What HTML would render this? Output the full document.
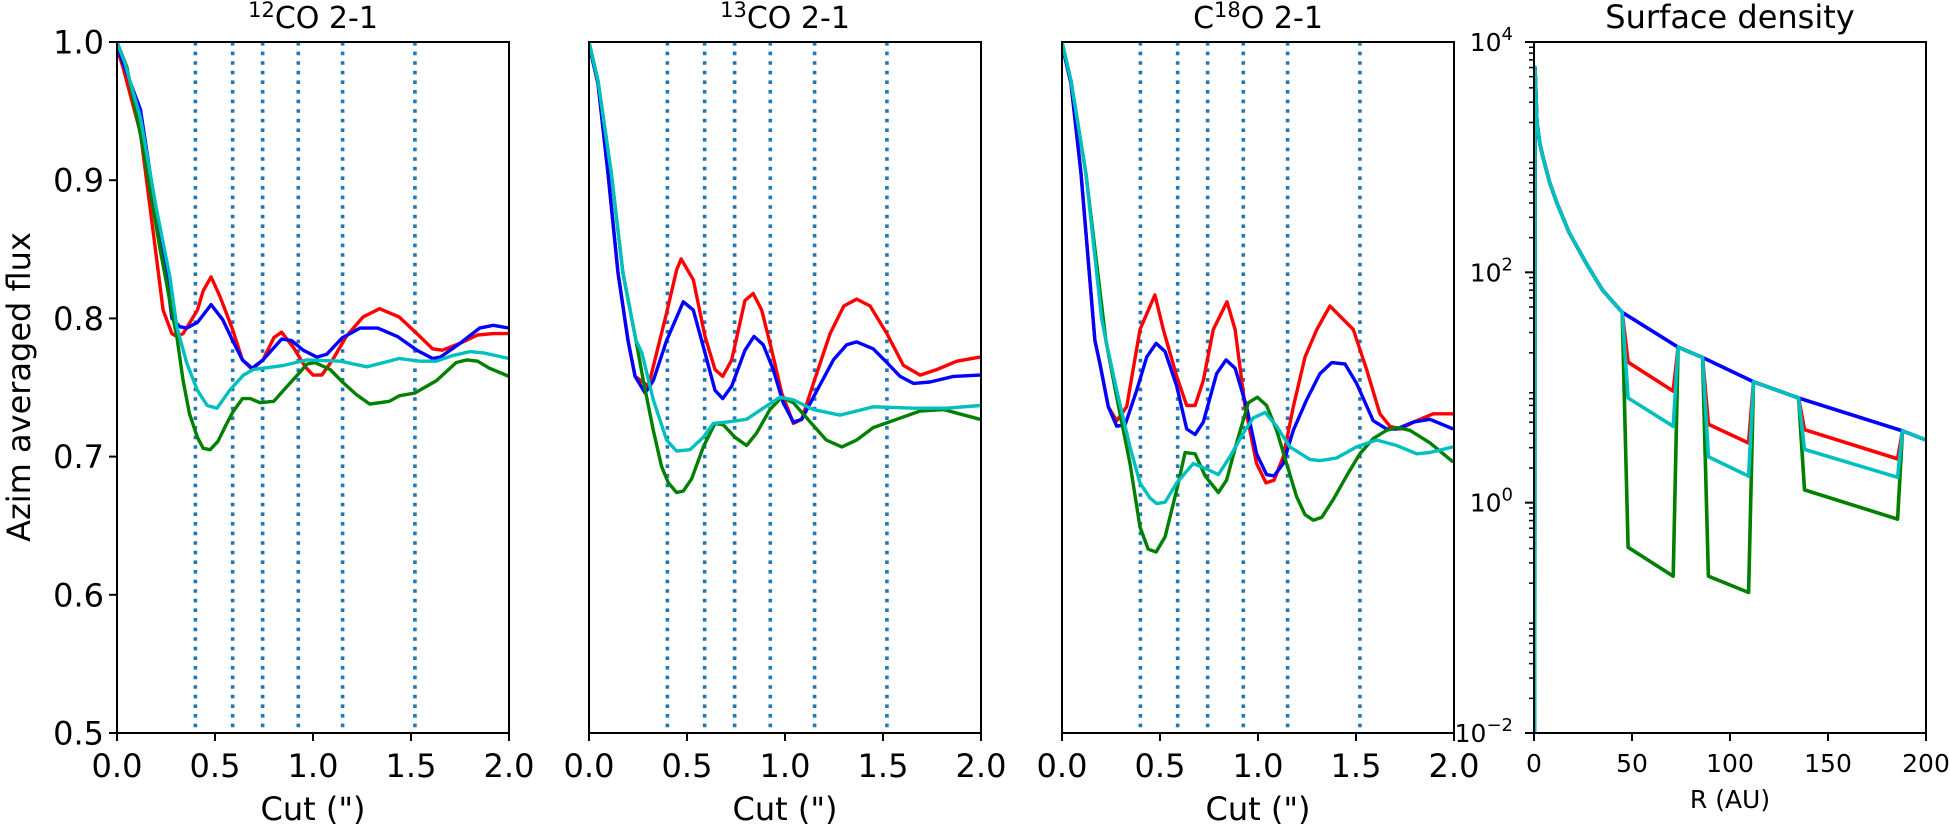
<!DOCTYPE html>
<html><head><meta charset="utf-8"><title>Azim averaged flux</title>
<style>
html,body{margin:0;padding:0;background:#fff;}
svg{display:block;font-family:"DejaVu Sans","Liberation Sans",sans-serif;}
</style></head>
<body>
<svg id="fig" width="1950" height="826" viewBox="0 0 1950 826" xmlns="http://www.w3.org/2000/svg"></svg>
<script>
// ---------- Data: flux panels ----------
const cutMarkers = [0.40, 0.59, 0.743, 0.925, 1.151, 1.52];
const xTicks = [0.0, 0.5, 1.0, 1.5, 2.0];
const yTicks = [0.5, 0.6, 0.7, 0.8, 0.9, 1.0];
const panelTitles = ["12CO 2-1", "13CO 2-1", "C18O 2-1"];

const p1RedX = [0,.03,.12,.185,.235,.28,.305,.337,.41,.44,.48,.525,.59,.64,.69,.745,.80,.84,.90,.96,1.0,1.045,1.10,1.17,1.255,1.34,1.44,1.53,1.61,1.66,1.75,1.84,1.92,2.0];
const p1RedY = [.995,.982,.934,.862,.806,.789,.787,.789,.806,.82,.83,.816,.792,.77,.763,.77,.786,.79,.779,.765,.759,.759,.77,.787,.801,.807,.801,.789,.778,.777,.782,.788,.789,.789];
const p1BlueX = [0,.03,.12,.2,.255,.28,.32,.355,.41,.48,.54,.59,.64,.69,.745,.84,.89,.95,1.02,1.07,1.15,1.24,1.33,1.43,1.53,1.61,1.65,1.75,1.85,1.92,2.0];
const p1BlueY = [.998,.985,.951,.876,.828,.80,.794,.793,.797,.81,.799,.784,.77,.764,.77,.785,.784,.777,.772,.774,.786,.793,.793,.787,.777,.771,.772,.782,.793,.795,.793];
const p1CyanX = [0,.04,.12,.20,.27,.305,.355,.41,.46,.51,.575,.645,.695,.80,.85,.97,1.14,1.275,1.36,1.44,1.545,1.63,1.71,1.80,1.87,2.0];
const p1CyanY = [1.0,.985,.945,.88,.83,.794,.768,.748,.737,.735,.748,.759,.763,.765,.766,.77,.769,.765,.768,.771,.769,.769,.773,.776,.775,.771];
const p1GreenX = [0,.05,.135,.22,.285,.305,.337,.37,.41,.44,.475,.515,.56,.59,.64,.68,.73,.80,.85,.92,.97,1.01,1.087,1.15,1.22,1.29,1.39,1.44,1.52,1.63,1.73,1.785,1.84,1.90,2.0];
const p1GreenY = [1.0,.982,.922,.85,.801,.787,.755,.731,.714,.706,.705,.711,.724,.732,.742,.742,.739,.74,.748,.759,.767,.768,.763,.754,.745,.738,.74,.744,.746,.755,.768,.77,.769,.764,.758];

const p2RedX = [0,.046,.097,.148,.199,.235,.303,.396,.447,.47,.532,.592,.643,.682,.728,.796,.838,.881,.932,.983,1.043,1.085,1.145,1.23,1.30,1.366,1.434,1.52,1.604,1.69,1.775,1.877,1.995];
const p2RedY = [.998,.97,.905,.833,.784,.758,.751,.804,.835,.843,.828,.787,.763,.758,.77,.813,.818,.806,.777,.746,.724,.727,.753,.789,.809,.814,.809,.789,.766,.759,.763,.769,.772];
const p2BlueX = [0,.046,.097,.148,.199,.235,.286,.328,.396,.481,.532,.592,.643,.682,.728,.796,.842,.889,.94,.991,1.043,1.085,1.145,1.247,1.315,1.366,1.45,1.52,1.587,1.655,1.74,1.86,1.995];
const p2BlueY = [.998,.97,.905,.833,.784,.758,.746,.755,.784,.812,.806,.775,.748,.742,.751,.777,.787,.781,.763,.739,.725,.727,.743,.77,.781,.783,.778,.768,.758,.753,.754,.758,.759];
const p2CyanX = [0,.046,.114,.173,.24,.27,.328,.396,.447,.515,.583,.634,.702,.804,.889,.974,1.043,1.145,1.28,1.366,1.45,1.655,1.825,1.995];
const p2CyanY = [1.0,.972,.905,.833,.784,.775,.741,.712,.704,.705,.714,.724,.725,.727,.735,.743,.741,.734,.730,.733,.736,.735,.735,.737];
const p2GreenX = [0,.046,.114,.173,.24,.277,.328,.37,.405,.447,.481,.524,.583,.643,.685,.745,.804,.855,.923,.983,1.043,1.11,1.21,1.29,1.366,1.45,1.57,1.69,1.81,1.89,1.995];
const p2GreenY = [1.0,.972,.905,.833,.784,.755,.719,.693,.681,.674,.675,.684,.707,.724,.723,.714,.708,.717,.734,.743,.739,.728,.712,.707,.712,.721,.727,.733,.734,.731,.727];

const p3RedX = [0,.046,.097,.168,.194,.236,.279,.33,.398,.474,.517,.585,.636,.679,.721,.772,.842,.883,.934,.993,1.041,1.082,1.129,1.18,1.24,1.30,1.367,1.486,1.554,1.622,1.673,1.724,1.81,1.894,1.996];
const p3RedY = [.998,.97,.905,.784,.767,.736,.726,.736,.792,.817,.792,.758,.737,.737,.755,.792,.812,.792,.736,.695,.681,.683,.70,.736,.772,.792,.809,.792,.763,.731,.722,.72,.726,.731,.731];
const p3BlueX = [0,.046,.097,.168,.194,.236,.279,.322,.381,.432,.48,.526,.585,.636,.679,.721,.789,.837,.883,.942,.993,1.044,1.082,1.129,1.18,1.248,1.316,1.376,1.444,1.503,1.588,1.656,1.707,1.792,1.877,1.996];
const p3BlueY = [.998,.97,.905,.784,.767,.736,.722,.723,.748,.772,.782,.776,.751,.72,.716,.725,.76,.77,.764,.736,.702,.687,.686,.695,.719,.741,.76,.768,.767,.753,.726,.72,.72,.725,.727,.72];
const p3CyanX = [0,.046,.122,.202,.224,.279,.347,.398,.449,.483,.526,.585,.67,.738,.798,.857,.925,.976,1.036,1.095,1.163,1.265,1.316,1.401,1.503,1.605,1.707,1.81,1.877,1.996];
const p3CyanY = [1.0,.972,.905,.80,.784,.748,.707,.681,.670,.666,.667,.681,.695,.691,.687,.70,.717,.728,.732,.722,.707,.698,.697,.699,.707,.712,.708,.702,.703,.707];
const p3GreenX = [0,.046,.122,.224,.279,.347,.398,.44,.48,.526,.585,.628,.679,.730,.798,.840,.891,.951,.997,1.044,1.095,1.146,1.197,1.24,1.282,1.325,1.384,1.452,1.52,1.588,1.656,1.707,1.775,1.877,1.996];
const p3GreenY = [1.0,.972,.905,.784,.743,.695,.649,.633,.631,.642,.676,.703,.702,.686,.674,.683,.710,.739,.743,.737,.719,.695,.671,.658,.654,.656,.669,.686,.702,.713,.719,.721,.719,.71,.696];

// ---------- Data: surface density panel ----------
const rTicks = [0, 50, 100, 150, 200];
const sigmaDecades = [-2, 0, 2, 4];
const baseR = [0.3,0.5,1.5,3,4.6,8,11.7,18,27,35,45,73.5,86,112,135,188,200];
const baseSigma = [0.001,6000,2000,1300,1000,600,400,220,117,70,45,22.4,18.2,11.2,8.1,4.2,3.5];
const gapStart = [45, 86, 135];
const gapEnd = [73.5, 112, 188];
const redGapIn = [16.6, 4.8, 4.3];
const redGapOut = [9.3, 3.3, 2.4];
const cyanGapIn = [8.1, 2.5, 2.9];
const cyanGapOut = [4.6, 1.7, 1.66];
const greenGapIn = [0.41, 0.23, 1.29];
const greenGapOut = [0.23, 0.166, 0.72];

// ---------- Layout ----------
const NS = "http://www.w3.org/2000/svg";
const svg = document.getElementById('fig');
const TOP = 42, BOT = 733, W = 392;
const lefts = [117, 589, 1062, 1534];
const COLORS = {red:'#ff0000', blue:'#0000ff', green:'#008000', cyan:'#00bfbf'};

function mk(tag, attrs, parent){
  const e = document.createElementNS(NS, tag);
  for (const k in attrs) e.setAttribute(k, attrs[k]);
  (parent||svg).appendChild(e);
  return e;
}

const defs = mk('defs', {});
lefts.forEach((L,i)=>{
  const cp = mk('clipPath', {id:'clip'+i}, defs);
  mk('rect', {x:L, y:TOP, width:W, height:BOT-TOP}, cp);
});

function fluxPanel(idx, series){
  const L = lefts[idx];
  const sx = v => L + v/2*W;
  const sy = v => BOT - (v-0.5)/0.5*(BOT-TOP);
  const g = mk('g', {});
  
  
  const plot = mk('g', {'clip-path':'url(#clip'+idx+')'}, g);
  cutMarkers.forEach((m, j) => {
    const ln = mk('line', {x1:sx(m), x2:sx(m), y1:TOP, y2:BOT, stroke:'#1f77b4', 'stroke-width':3.6, 'stroke-dasharray':'3.6,6'}, plot);
    
    
  });
  series.forEach(s => {
    const pts = s.x.map((v,k)=> sx(v).toFixed(1)+','+sy(s.y[k]).toFixed(1)).join(' ');
    const pl = mk('polyline', {points:pts, fill:'none', stroke:COLORS[s.c], 'stroke-width':3.4, 'stroke-linejoin':'round'}, plot);
    
    
  });
  const fr = mk('rect', {x:L, y:TOP, width:W, height:BOT-TOP, fill:'none', stroke:'#000', 'stroke-width':2}, g);
  
  
  xTicks.forEach(t => {
    mk('line', {x1:sx(t), x2:sx(t), y1:BOT, y2:BOT+8, stroke:'#000', 'stroke-width':2}, g);
    const tx = mk('text', {x:sx(t), y:777, 'font-size':32, 'text-anchor':'middle'}, g);
    tx.textContent = t.toFixed(1);
    
    
  });
  if (idx === 0){
    yTicks.forEach(t => {
      mk('line', {x1:L-8, x2:L, y1:sy(t), y2:sy(t), stroke:'#000', 'stroke-width':2}, g);
      const ty = mk('text', {x:L-13, y:sy(t)+11.5, 'font-size':32, 'text-anchor':'end'}, g);
      ty.textContent = t.toFixed(1);
      
      
    });
    const yl = mk('text', {x:0, y:0, 'font-size':32, 'text-anchor':'middle', transform:'translate(30,387) rotate(-90)'}, g);
    yl.textContent = 'Azim averaged flux';
    
    
  }
  const xl = mk('text', {x:L+W/2, y:820, 'font-size':32, 'text-anchor':'middle'}, g);
  xl.textContent = 'Cut (")';
  
  
  const tt = mk('text', {x:L+W/2, y:28, 'font-size':30, 'text-anchor':'middle'}, g);
  
  
  let parts;
  if (idx===0) parts = [['',''],['12','sup'],['CO 2-1','']];
  else if (idx===1) parts = [['',''],['13','sup'],['CO 2-1','']];
  else parts = [['C',''],['18','sup'],['O 2-1','']];
  parts.forEach(p => {
    if (!p[0]) return;
    const ts = mk('tspan', p[1]==='sup' ? {'font-size':21, dy:-11} : {'font-size':30, dy: 11*(tt.childNodes.length>0 && tt.lastChild.getAttribute('font-size')==='21'?1:0)}, tt);
    ts.textContent = p[0];
  });
}

fluxPanel(0, [{c:'red',x:p1RedX,y:p1RedY},{c:'blue',x:p1BlueX,y:p1BlueY},{c:'green',x:p1GreenX,y:p1GreenY},{c:'cyan',x:p1CyanX,y:p1CyanY}]);
fluxPanel(1, [{c:'red',x:p2RedX,y:p2RedY},{c:'blue',x:p2BlueX,y:p2BlueY},{c:'green',x:p2GreenX,y:p2GreenY},{c:'cyan',x:p2CyanX,y:p2CyanY}]);
fluxPanel(2, [{c:'red',x:p3RedX,y:p3RedY},{c:'blue',x:p3BlueX,y:p3BlueY},{c:'green',x:p3GreenX,y:p3GreenY},{c:'cyan',x:p3CyanX,y:p3CyanY}]);

(function(){
  const L = lefts[3];
  const sx = r => L + r/200*W;
  const sy = s => BOT - (Math.log10(s) + 2)/6*(BOT-TOP);
  const g = mk('g', {});
  
  
  const plot = mk('g', {'clip-path':'url(#clip3)'}, g);

  function buildPath(inArr, outArr){
    const pts = [];
    for (let i=0;i<baseR.length;i++){
      const r = baseR[i];
      const gi = gapStart.indexOf(r);
      const inside = inArr && gapStart.some((a,k)=> r>a && r<gapEnd[k]);
      if (inside) continue;
      pts.push([r, baseSigma[i]]);
      if (inArr && gi>=0){
        pts.push([r+3, inArr[gi]]);
        pts.push([gapEnd[gi]-2.5, outArr[gi]]);
      }
    }
    return pts.map(p => sx(p[0]).toFixed(1)+','+sy(p[1]).toFixed(1)).join(' ');
  }
  const sets = [['red', redGapIn, redGapOut], ['green', greenGapIn, greenGapOut], ['blue', null, null], ['cyan', cyanGapIn, cyanGapOut]];
  sets.forEach(s => {
    const pl = mk('polyline', {points:buildPath(s[1], s[2]), fill:'none', stroke:COLORS[s[0]], 'stroke-width':3.6, 'stroke-linejoin':'round'}, plot);
    
    
  });
  const fr = mk('rect', {x:L, y:TOP, width:W, height:BOT-TOP, fill:'none', stroke:'#000', 'stroke-width':2}, g);
  
  
  rTicks.forEach(t => {
    mk('line', {x1:sx(t), x2:sx(t), y1:BOT, y2:BOT+8, stroke:'#000', 'stroke-width':2}, g);
    const tx = mk('text', {x:sx(t), y:772, 'font-size':25, 'text-anchor':'middle'}, g);
    tx.textContent = String(t);
    
    
  });
  for (let d=-2; d<4; d++){
    for (let m=2;m<10;m++){
      const y = sy(m*Math.pow(10,d));
      mk('line', {x1:L-5, x2:L, y1:y, y2:y, stroke:'#000', 'stroke-width':1.5}, g);
    }
  }
  sigmaDecades.forEach(d => {
    const y = sy(Math.pow(10,d));
    mk('line', {x1:L-9, x2:L, y1:y, y2:y, stroke:'#000', 'stroke-width':2}, g);
    const tx = mk('text', {x:L-21, y:y+9, 'font-size':25, 'text-anchor':'end'}, g);
    
    
    const a = mk('tspan', {}, tx); a.textContent = '10';
    const b = mk('tspan', {'font-size':18, dy:-11}, tx); b.textContent = d<0 ? '\u2212'+(-d) : String(d);
  });
  const xl = mk('text', {x:L+W/2, y:808, 'font-size':25, 'text-anchor':'middle'}, g);
  xl.textContent = 'R (AU)';
  
  
  const tt = mk('text', {x:L+W/2, y:28, 'font-size':32, 'text-anchor':'middle'}, g);
  tt.textContent = 'Surface density';
  
  
})();
</script>
</body></html>
